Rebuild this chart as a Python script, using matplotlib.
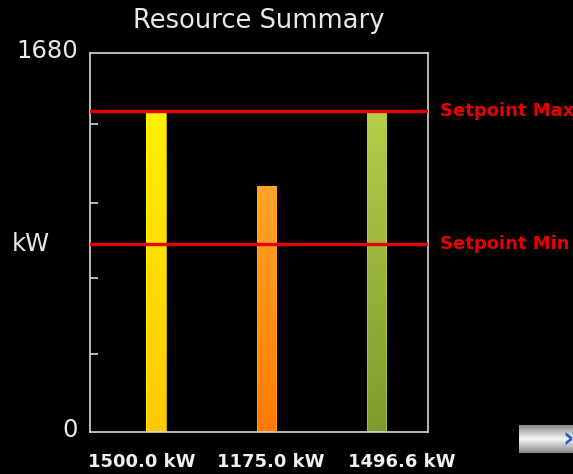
import matplotlib.pyplot as plt
import numpy as np
from matplotlib.colors import LinearSegmentedColormap

# 数据
bar_labels = ["1500.0 kW", "1175.0 kW", "1496.6 kW"]
values = [1500.0, 1175.0, 1496.6]
setpoint_max = 1510
setpoint_min = 915
axis_labels = ["0", "1680"]

top_colors = ["#FFF000", "#FFA428", "#B4CE48"]
bottom_colors = ["#FFC800", "#FF7C00", "#7E9A2C"]

fig = plt.figure(figsize=(5.73, 4.74), dpi=100, facecolor="black")
ax = fig.add_axes([0.157, 0.089, 0.59, 0.799], facecolor="black")

ylo, yhi = 80, 1767
x = np.arange(len(values))
width = 0.175

# 渐变柱
grad = np.linspace(0, 1, 256).reshape(-1, 1)
for xi, v, c_top, c_bot in zip(x, values, top_colors, bottom_colors):
    cmap = LinearSegmentedColormap.from_list("g", [c_bot, c_top])
    ax.imshow(grad, cmap=cmap, aspect="auto", origin="lower",
              extent=(xi - width / 2, xi + width / 2, ylo, v), zorder=2)
    ax.add_patch(plt.Rectangle((xi - width / 2, ylo), width, v - ylo,
                               fill=False, edgecolor=c_top, lw=0.8,
                               alpha=0.7, zorder=3))

# 设定值线
for sp, name in [(setpoint_max, "Setpoint Max"), (setpoint_min, "Setpoint Min")]:
    ax.axhline(sp, color="#E80000", lw=2.4, zorder=4)
    ax.text(1.035, sp, name, transform=ax.get_yaxis_transform(),
            color="#E80000", fontsize=13, fontweight="bold",
            va="center", ha="left", clip_on=False)

ax.set_xlim(-0.6, 2.47)
ax.set_ylim(ylo, yhi)

for s in ax.spines.values():
    s.set_color("#D8D8D8")
    s.set_linewidth(1.2)

ax.set_xticks([])
ax.set_yticks([ylo + f * (yhi - ylo) for f in (0.206, 0.406, 0.604, 0.813)])
ax.set_yticklabels([])
ax.tick_params(axis="y", direction="in", length=6, width=1.2, color="#D8D8D8")

# 轴标签
ax.text(-0.035, 0.005, axis_labels[0], transform=ax.transAxes, color="#E8E8E8",
        fontsize=17.5, ha="right", va="center")
ax.text(-0.035, 1.005, axis_labels[1], transform=ax.transAxes, color="#E8E8E8",
        fontsize=17.5, ha="right", va="center")
ax.text(-0.175, 0.495, "kW", transform=ax.transAxes, color="#E8E8E8",
        fontsize=17.5, ha="center", va="center")

# 标题
ax.text(0.5, 1.085, "Resource Summary", transform=ax.transAxes, color="#E8E8E8",
        fontsize=18.5, ha="center", va="center")

# 底部数值
for xf, lab in zip([0.154, 0.536, 0.923], bar_labels):
    ax.text(xf, -0.08, lab, transform=ax.transAxes, color="#F0F0F0",
            fontsize=13, fontweight="bold", ha="center", va="center")

# 右下角按钮
bax = fig.add_axes([519 / 573, (474 - 453) / 474, 54 / 573, 28 / 474])
bgrad = np.abs(np.linspace(-1, 1, 64)).reshape(-1, 1)
bax.imshow(bgrad, cmap=LinearSegmentedColormap.from_list("b", ["#F4F4F4", "#8A8A8A"]),
           aspect="auto", extent=(0, 1, 0, 1))
bax.text(1.02, 0.5, "›", color="#2060C0", fontsize=20, fontweight="bold",
         ha="right", va="center", transform=bax.transAxes)
bax.axis("off")

fig.savefig("out.png", dpi=100, facecolor="black")
